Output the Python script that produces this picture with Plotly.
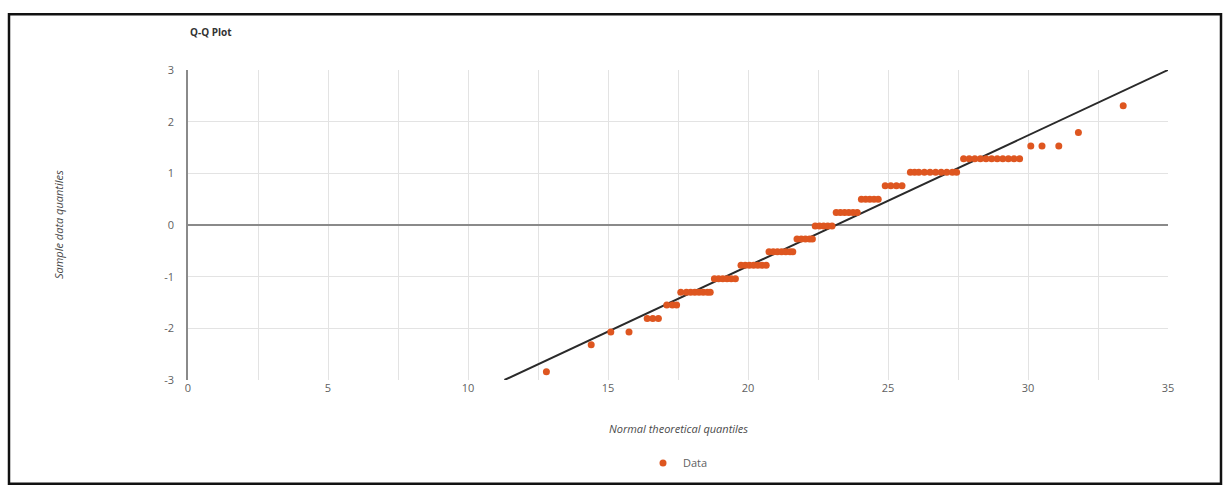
import plotly.graph_objects as go

# Sample quantiles (standardised data values) and the normal theoretical
# quantiles of the points that share each value.
sample_levels = [-2.84, -2.32, -2.07, -1.81, -1.55, -1.30, -1.04, -0.78, -0.52,
                 -0.27, -0.02, 0.24, 0.50, 0.76, 1.02, 1.28, 1.53, 1.79, 2.31]
theoretical_by_level = [
    [12.8],
    [14.4],
    [15.1, 15.75],
    [16.4, 16.6, 16.8],
    [17.1, 17.3, 17.45],
    [17.6, 17.8, 17.95, 18.1, 18.25, 18.4, 18.55, 18.65],
    [18.8, 18.95, 19.1, 19.25, 19.4, 19.55],
    [19.75, 19.9, 20.05, 20.2, 20.35, 20.5, 20.65],
    [20.75, 20.9, 21.05, 21.2, 21.35, 21.5, 21.6],
    [21.75, 21.9, 22.05, 22.2, 22.3],
    [22.4, 22.55, 22.7, 22.85, 23.0],
    [23.15, 23.3, 23.45, 23.6, 23.75, 23.9],
    [24.05, 24.2, 24.35, 24.5, 24.65],
    [24.9, 25.1, 25.3, 25.5],
    [25.8, 25.95, 26.1, 26.3, 26.5, 26.7, 26.9, 27.1, 27.3, 27.45],
    [27.7, 27.9, 28.1, 28.3, 28.5, 28.7, 28.9, 29.1, 29.3, 29.5, 29.7],
    [30.1, 30.5, 31.1],
    [31.8],
    [33.4],
]

# Reference line y = (x - mean) / sd
ref_mean = 23.15
ref_sd = 3.95

x_range = [0, 35]
y_range = [-3, 3]
x_ticks = [0, 5, 10, 15, 20, 25, 30, 35]
y_ticks = [-3, -2, -1, 0, 1, 2, 3]
y_tick_text = ["-3", "-2", "-1", "0", "1", "2", "3"]

xs, ys = [], []
for lvl, xvals in zip(sample_levels, theoretical_by_level):
    for xv in xvals:
        xs.append(xv)
        ys.append(lvl)

line_x = [ref_mean + y_range[0] * ref_sd, x_range[1]]
line_y = [(v - ref_mean) / ref_sd for v in line_x]

W, H = 1229, 488
ML, MR, MT, MB = 188, 61, 70, 107
PW, PH = W - ML - MR, H - MT - MB


def px_x(p):
    return (p - ML) / PW


def px_y(p):
    return (H - MB - p) / PH


FONT = "Open Sans"
GREY = "#5f5f5f"

fig = go.Figure()
fig.add_trace(go.Scatter(
    x=line_x, y=line_y, mode="lines",
    line=dict(color="#2a2a2a", width=2),
    showlegend=False, hoverinfo="skip",
))
fig.add_trace(go.Scatter(
    x=xs, y=ys, mode="markers", name="Data",
    marker=dict(color="#DE5620", size=7),
))

fig.update_layout(
    width=W, height=H,
    margin=dict(l=ML, r=MR, t=MT, b=MB),
    paper_bgcolor="white", plot_bgcolor="white",
    font=dict(family=FONT, size=11, color=GREY),
    title=dict(text="<b>Q-Q Plot</b>", x=190 / W, xanchor="left",
               y=1 - 32 / H, yanchor="middle",
               font=dict(family=FONT, size=10, color="#333333")),
    legend=dict(orientation="h", x=0.5, xanchor="center",
                y=px_y(463), yanchor="middle",
                font=dict(family=FONT, size=11, color=GREY)),
    xaxis=dict(range=x_range, tickvals=x_ticks, showgrid=True,
               gridcolor="#e3e3e3", gridwidth=1,
               minor=dict(dtick=2.5, showgrid=True, gridcolor="#e3e3e3"),
               zeroline=False, showline=False, ticks="",
               tickfont=dict(family=FONT, size=11, color=GREY)),
    yaxis=dict(range=y_range, tickvals=y_ticks, ticktext=y_tick_text,
               showgrid=True, gridcolor="#e3e3e3", gridwidth=1,
               zeroline=True, zerolinecolor="#8a8a8a", zerolinewidth=1.5,
               showline=True, linecolor="#8a8a8a", linewidth=1.5,
               ticks="", ticklabelstandoff=10,
               tickfont=dict(family=FONT, size=11, color=GREY)),
    annotations=[
        dict(text="<i>Normal theoretical quantiles</i>", xref="paper", yref="paper",
             x=0.5, y=px_y(430), xanchor="center", yanchor="middle",
             showarrow=False, font=dict(family=FONT, size=11, color="#4a4a4a")),
        dict(text="<i>Sample data quantiles</i>", xref="paper", yref="paper",
             x=px_x(58), y=0.5, xanchor="center", yanchor="middle", textangle=-90,
             showarrow=False, font=dict(family=FONT, size=11, color="#4a4a4a")),
    ],
    shapes=[
        dict(type="rect", xref="paper", yref="paper",
             x0=px_x(9), x1=px_x(1221), y0=px_y(485), y1=px_y(14),
             line=dict(color="#111111", width=2.5), fillcolor="rgba(0,0,0,0)",
             layer="above"),
    ],
)

fig.write_html("out.html")
